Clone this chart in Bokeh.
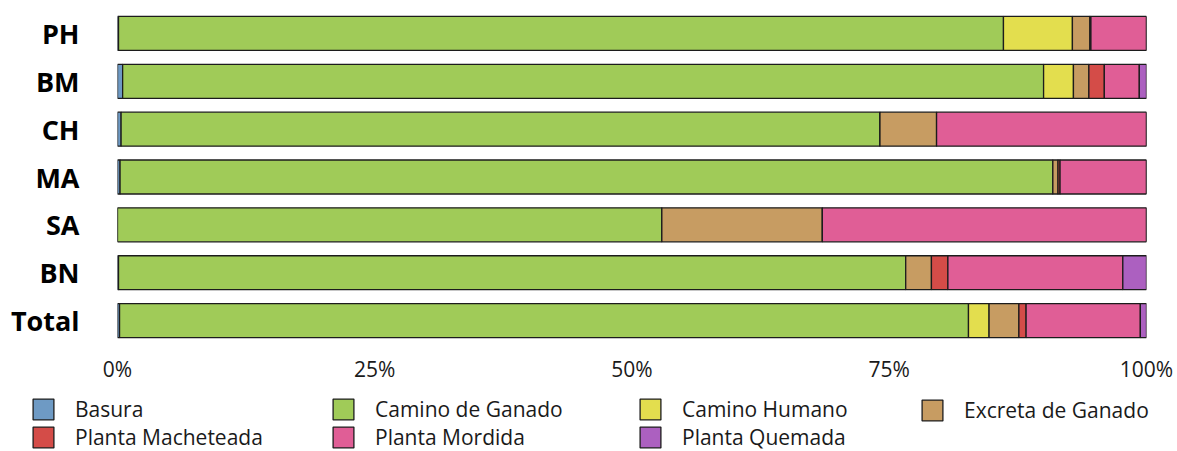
from bokeh.plotting import figure
from bokeh.layouts import column
from bokeh.models import (ColumnDataSource, FactorRange, Range1d, FixedTicker, Legend,
                          LegendItem)
from bokeh.embed import file_html
from bokeh.resources import INLINE

# ---- data ----
sites = ["PH", "BM", "CH", "MA", "SA", "BN", "Total"]
categories = ["Basura", "Camino de Ganado", "Camino Humano", "Excreta de Ganado",
              "Planta Macheteada", "Planta Mordida", "Planta Quemada"]
basura = [0.1, 0.5, 0.35, 0.25, 0.0, 0.1, 0.2]
camino_ganado = [86.0, 89.5, 73.75, 90.65, 52.9, 76.5, 82.5]
camino_humano = [6.7, 2.9, 0.0, 0.0, 0.0, 0.0, 2.0]
excreta_ganado = [1.7, 1.5, 5.5, 0.5, 15.6, 2.5, 2.9]
planta_macheteada = [0.1, 1.5, 0.0, 0.2, 0.0, 1.6, 0.7]
planta_mordida = [5.4, 3.4, 20.4, 8.4, 31.5, 17.0, 11.1]
planta_quemada = [0.0, 0.7, 0.0, 0.0, 0.0, 2.3, 0.6]
colors = ["#6E9AC4", "#A0CB58", "#E3DE4E", "#C79C62", "#D44C48", "#E05E96", "#AC60C0"]
tick_values = [0, 25, 50, 75, 100]
tick_labels = ["0%", "25%", "50%", "75%", "100%"]

keys = ["basura", "camino_ganado", "camino_humano", "excreta_ganado",
        "planta_macheteada", "planta_mordida", "planta_quemada"]
source = ColumnDataSource(dict(
    site=sites, basura=basura, camino_ganado=camino_ganado, camino_humano=camino_humano,
    excreta_ganado=excreta_ganado, planta_macheteada=planta_macheteada,
    planta_mordida=planta_mordida, planta_quemada=planta_quemada))

W = 1177
H_BARS = 390
H_LEG = 451 - H_BARS
LINE = "#1c1c1c"

p = figure(width=W, height=H_BARS, output_backend="svg", toolbar_location=None,
           y_range=FactorRange(factors=sites[::-1], range_padding=0),
           x_range=Range1d(0, 100),
           min_border_left=117, min_border_right=31, min_border_top=9,
           min_border_bottom=H_BARS - 344)
p.outline_line_color = None
p.grid.visible = False
p.frame_align = False

renderers = p.hbar_stack(keys, y="site", height=0.71, color=colors, source=source,
                         line_color=LINE, line_width=1.3)

# axes
p.xaxis.ticker = FixedTicker(ticks=tick_values)
p.xaxis.major_label_overrides = {v: l for v, l in zip(tick_values, tick_labels)}
for ax in (p.xaxis, p.yaxis):
    ax.axis_line_color = None
    ax.major_tick_line_color = None
    ax.minor_tick_line_color = None
    ax.major_tick_in = 0
    ax.major_tick_out = 0
p.xaxis.major_label_text_font = "Open Sans"
p.xaxis.major_label_text_font_size = "21px"
p.xaxis.major_label_text_color = "#1a1a1a"
p.xaxis.major_label_standoff = 10
p.yaxis.major_label_text_font = "Open Sans"
p.yaxis.major_label_text_font_style = "bold"
p.yaxis.major_label_text_font_size = "27px"
p.yaxis.major_label_text_color = "#000000"
p.yaxis.major_label_standoff = 38

# ---- legend strip: same stacked bars on a category axis that holds none of the
# sites, so only the legend keys show ----
q = figure(width=W, height=H_LEG, output_backend="svg", toolbar_location=None,
           y_range=FactorRange(factors=["leyenda"]), x_range=Range1d(0, 100),
           min_border_left=0, min_border_right=0, min_border_top=0, min_border_bottom=0)
q.outline_line_color = None
q.grid.visible = False
q.axis.visible = False
q.frame_align = False
leg_renderers = q.hbar_stack(keys, y="site", height=0.71, color=colors, source=source,
                             line_color=LINE, line_width=1.3)

col_x = [30, 330, 637, 919]
for c in range(4):
    idx = [i for i in (c, c + 4) if i < len(categories)]
    items = [LegendItem(label=categories[i], renderers=[leg_renderers[i]]) for i in idx]
    lg = Legend(items=items, orientation="vertical",
                location=(col_x[c], 0 if len(idx) == 2 else 27),
                glyph_width=26, glyph_height=26, label_standoff=19,
                label_text_font="Open Sans", label_text_font_size="21px",
                label_text_color="#1a1a1a", label_height=27,
                spacing=0, padding=0, margin=0,
                border_line_color=None, background_fill_alpha=0)
    q.add_layout(lg, "center")

layout = column(p, q, spacing=0)
open("out.html", "w").write(file_html(layout, INLINE))
